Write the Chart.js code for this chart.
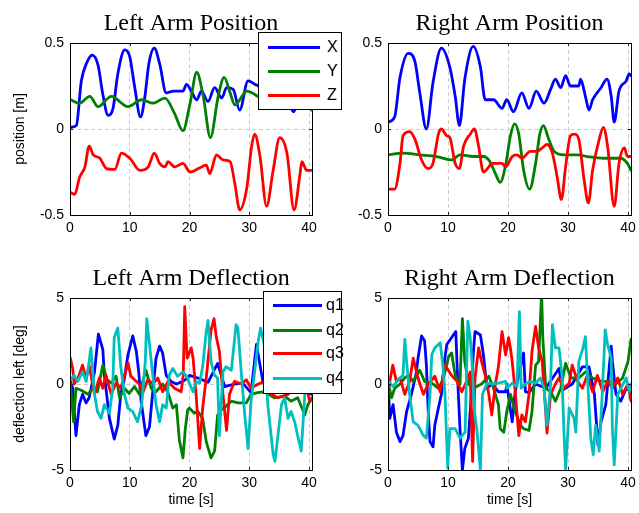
<!DOCTYPE html>
<html>
<head>
<meta charset="utf-8">
<script src="https://cdn.jsdelivr.net/npm/chart.js@4.4.0/dist/chart.umd.min.js"></script>
<style>
html,body{margin:0;padding:0;background:#fff;overflow:hidden;width:639px;height:513px;}
#wrap{position:relative;width:639px;height:513px;overflow:hidden;background:#fff;}
#wrap canvas{position:absolute;}
.legend{position:absolute;background:#fff;border:1px solid #000;box-sizing:border-box;font-family:"Liberation Sans",Arial,sans-serif;font-size:16px;color:#000;}
.legend .ln{position:absolute;height:3px;}
.legend .tx{position:absolute;line-height:20px;height:20px;}
</style>
</head>
<body>
<div id="wrap">
  <canvas id="cTL" width="382" height="258" style="left:0px;top:0px;width:382px;height:258px;"></canvas>
  <canvas id="cTR" width="383" height="258" style="left:318px;top:0px;width:383px;height:258px;"></canvas>
  <canvas id="cBL" width="382" height="258" style="left:0px;top:255px;width:382px;height:258px;"></canvas>
  <canvas id="cBR" width="383" height="258" style="left:318px;top:255px;width:383px;height:258px;"></canvas>
  <div class="legend" id="legTL" style="left:258px;top:32px;width:84px;height:78px;"></div>
  <div class="legend" id="legBL" style="left:263px;top:291px;width:79px;height:103px;"></div>
</div>
<script>
// ---------- tick labels / categories ----------
const xTickValues = [0, 10, 20, 30, 40];
const posTickValues = [-0.5, 0, 0.5];
const defTickValues = [-5, 0, 5];
const posLabels = ['X', 'Y', 'Z'];
const defLabels = ['q1', 'q2', 'q3', 'q4'];
const panelTitles = ['Left Arm Position', 'Right Arm Position', 'Left Arm Deflection', 'Right Arm Deflection'];
const posAxisTitle = 'position [m]';
const defAxisTitle = 'deflection left [deg]';
const timeAxisTitle = 'time [s]';

// ---------- Left arm position ----------
const tlXt = [0.1,1.06,1.9,2.74,3.74,4.7,5.5,6.37,7.2,8.0,9.16,10.0,10.8,11.8,12.5,13.2,14.1,15.0,16.1,17.3,18.9,19.5,20.3,21.2,22.0,23.1,24.2,25.4,26.2,27.3,28.4,29.8,30.9,31.8,32.9,34.0,35.1,36.3,37.4,38.5,39.6,40.4];
const tlXv = [0.01,0.02,0.28,0.38,0.43,0.37,0.2,0.08,0.12,0.32,0.46,0.42,0.25,0.07,0.18,0.38,0.47,0.38,0.21,0.22,0.22,0.26,0.22,0.17,0.22,0.16,0.24,0.18,0.24,0.23,0.11,0.28,0.26,0.24,0.12,0.22,0.25,0.2,0.1,0.2,0.22,0.2];
const tlYt = [0.1,1.6,3.3,4.7,6.9,9.7,12.0,13.9,15.9,17.5,18.9,20.1,21.2,22.3,23.5,24.8,25.8,26.8,27.6,29.6,31.4,32.9,35.1,37.4,39.6,40.4];
const tlYv = [0.17,0.15,0.19,0.13,0.19,0.13,0.17,0.15,0.18,0.09,-0.01,0.15,0.33,0.19,-0.05,0.19,0.3,0.21,0.14,0.22,0.19,0.15,0.2,0.17,0.14,0.11];
const tlZt = [0.1,0.8,1.6,2.5,3.2,3.9,5.0,6.1,7.5,8.6,10.0,11.7,13.1,14.1,15.0,15.9,16.4,17.5,18.9,20.1,21.5,22.8,23.4,24.5,25.6,26.8,27.6,28.4,29.6,30.4,30.9,31.8,32.9,34.0,35.1,36.3,37.5,38.5,38.8,39.6,40.4];
const tlZv = [-0.37,-0.38,-0.28,-0.22,-0.1,-0.15,-0.17,-0.23,-0.235,-0.14,-0.17,-0.24,-0.22,-0.14,-0.2,-0.22,-0.19,-0.22,-0.2,-0.25,-0.23,-0.21,-0.26,-0.15,-0.18,-0.19,-0.32,-0.47,-0.34,-0.1,-0.03,-0.16,-0.45,-0.24,-0.05,-0.14,-0.47,-0.26,-0.19,-0.24,-0.24];

// ---------- Right arm position ----------
const trXt = [0,1.1,2.0,3.35,4.5,5.3,6.4,7.5,8.9,10.3,11.2,11.9,12.8,14.2,15.4,16.2,17.6,19.0,19.8,20.9,22.3,23.5,24.7,26.0,27.1,27.9,28.8,29.6,30.4,31.8,32.1,32.9,33.5,34.1,35.5,36.5,37.2,37.7,38.5,39.7,40.2,40.5];
const trXv = [0.04,0.07,0.3,0.44,0.39,0.21,0.0,0.27,0.47,0.36,0.19,0.02,0.29,0.48,0.36,0.17,0.17,0.12,0.17,0.1,0.21,0.12,0.22,0.15,0.23,0.29,0.24,0.31,0.25,0.25,0.29,0.19,0.11,0.17,0.24,0.29,0.19,0.04,0.22,0.28,0.32,0.31];
const trYt = [0,2.5,5.3,8.1,10.6,12.0,14.2,15.9,17.0,17.9,18.7,19.6,20.4,21.1,21.8,22.6,23.6,24.6,25.3,25.9,26.8,27.7,29.3,31.6,33.2,36.0,38.8,39.9,40.5];
const trYv = [-0.15,-0.14,-0.15,-0.16,-0.18,-0.15,-0.16,-0.16,-0.19,-0.26,-0.31,-0.21,-0.04,0.03,-0.03,-0.24,-0.35,-0.2,-0.03,0.02,-0.06,-0.13,-0.15,-0.15,-0.16,-0.17,-0.17,-0.2,-0.24];
const trZt = [0,1.1,2.0,2.5,3.6,4.5,5.6,6.7,7.5,8.4,8.9,9.8,10.3,11.2,11.9,12.6,13.7,14.4,15.1,15.9,16.8,17.3,19.0,19.6,20.7,21.5,22.3,23.7,24.9,25.7,26.5,27.4,28.2,28.9,29.6,30.4,31.1,31.8,32.7,33.4,34.1,35.2,35.9,36.6,37.7,38.5,39.4,39.9,40.5];
const trZv = [-0.35,-0.35,-0.2,-0.04,-0.015,-0.06,-0.18,-0.23,-0.2,-0.03,0.0,-0.04,-0.05,-0.2,-0.23,-0.1,-0.03,0.0,-0.1,-0.25,-0.22,-0.2,-0.2,-0.22,-0.16,-0.15,-0.17,-0.13,-0.13,-0.11,-0.09,-0.14,-0.28,-0.41,-0.22,-0.04,-0.03,-0.06,-0.3,-0.43,-0.24,-0.06,0.01,-0.1,-0.45,-0.2,-0.11,-0.16,-0.16];

// ---------- Left arm deflection ----------
const blQ1t = [0.06,0.45,1.0,1.56,2.1,2.7,3.2,4.1,4.75,5.5,5.75,6.2,6.6,7.4,8.0,8.5,9.1,9.7,10.5,11.1,11.5,11.9,12.7,13.3,13.9,14.4,15.0,15.5,16.1,16.9,17.8,18.9,19.7,20.0,21.4,23.1,24.7,25.9,27.5,28.9,30.3,31.2,31.7,32.3,34.2,36.5,38.7,40.4];
const blQ1v = [0.15,-0.25,-3.0,-1.2,-0.6,-1.1,-0.8,0.7,2.9,2.0,0.5,-0.8,-2.0,-3.2,-2.4,-0.6,0.3,1.7,2.8,1.9,0.7,-1.0,-3.0,-2.5,-0.25,1.5,2.2,1.8,0.5,0.15,0,0.15,0.35,0.5,0.35,0.1,1.2,-0.15,0,0.05,-0.5,2.3,1.3,0.1,-0.3,-0.4,-0.3,-0.6];
const blQ2t = [0.06,0.6,1.0,1.8,3.0,3.8,4.6,5.5,6.2,6.9,7.7,8.3,9.1,9.9,10.8,11.6,12.7,13.6,14.4,15.5,16.4,17.2,17.8,18.3,18.9,19.3,19.7,20.0,20.8,21.4,22.2,22.8,23.6,24.2,24.7,25.3,26.1,27.0,28.1,29.5,30.3,31.4,32.6,34.2,35.9,37.0,38.1,39.3,39.8,40.4];
const blQ2v = [0,-2.2,-0.25,-0.35,-0.6,-0.25,-0.45,1.1,0.25,0.05,0.45,-0.8,-0.25,-0.55,-0.15,-0.6,0.8,-0.25,-0.45,0,-0.5,-1.4,-1.2,-3.25,-4.3,-2.6,-1.5,-1.4,-1.7,-1.6,-2.0,-3.35,-4.3,-3.9,-1.8,-1.5,-1.3,-1.0,-1.1,-1.1,-0.6,-0.5,-0.45,-0.8,-0.7,-1.0,-0.8,-1.8,-1.2,-0.9];
const blQ3t = [0.06,0.45,0.7,1.3,2.1,2.7,3.2,4.1,4.9,5.5,6.0,6.9,7.7,8.5,9.7,10.2,11.1,11.6,12.2,13.0,13.9,14.7,15.5,16.4,17.5,18.6,18.95,19.2,19.6,20.3,20.6,21.1,21.7,22.2,22.8,23.6,24.1,24.5,25.0,25.6,26.2,26.7,27.5,28.7,29.5,30.3,31.5,32.6,33.7,34.8,36.5,37.6,38.7,39.5,40.1,40.5];
const blQ3v = [1.5,0.9,0,0.3,1.1,0.3,1.1,-0.6,0.35,-0.25,0.5,-0.6,0.05,-0.25,1.2,0.45,0.15,0,-0.5,0.25,0,0.35,-0.45,0.15,-0.25,-0.45,0.5,4.5,1.5,2.1,1.5,-0.6,-3.75,-1.4,0.35,3.1,3.8,2.7,1.9,-0.6,-2.7,-0.6,0.15,0,0.25,-0.25,0,0.15,-0.6,-0.8,-0.6,-0.25,-0.35,0,-1.0,-0.8];
const blQ4t = [0.06,0.7,1.3,2.1,2.7,3.2,3.5,4.1,4.6,5.2,5.75,6.6,7.15,7.4,8.0,8.5,9.1,9.7,10.5,11.3,12.0,12.6,12.85,13.3,13.9,14.4,15.0,15.5,16.1,16.6,17.2,18.0,18.9,19.7,20.0,20.6,21.1,21.7,22.2,22.8,23.1,23.6,24.2,24.7,25.0,25.6,26.1,27.0,27.8,28.1,28.7,29.2,29.8,30.3,30.9,31.5,31.9,32.5,33.1,34.0,34.3,34.8,35.4,35.9,36.5,37.0,37.6,38.1,38.7,39.3,39.8,40.5];
const blQ4v = [0.25,0.5,0.15,0.7,0.15,1.3,2.1,-0.6,-1.6,-2.0,-1.2,-1.7,-0.25,2.7,3.25,1.0,-0.6,-1.4,-1.6,-2.2,-1.2,1.3,3.8,2.3,0.35,-1.2,-2.2,-1.2,-1.4,0.5,0.9,0.45,0.7,0.35,0,-0.45,0.15,0.05,1.0,3.05,3.7,1.3,0.5,0.35,-3.0,0.7,1.0,0.8,3.45,3.25,0.5,-1.6,-3.75,-1.0,0.7,2.5,3.25,2.3,-1.2,-4.1,-4.5,-3.0,-1.2,-0.8,-2.0,-1.6,-2.2,-3.0,-3.9,-0.6,-0.25,-0.45];

// ---------- Right arm deflection ----------
const brQ1t = [0.1,0.3,0.85,1.4,2.0,2.5,3.1,3.9,4.75,5.0,5.6,6.1,6.4,6.7,7.0,7.5,7.8,8.4,8.9,9.4,9.8,10.6,11.3,11.6,12.0,12.4,12.8,13.4,13.9,14.2,14.5,15.4,15.9,16.5,17.3,18.4,19.6,19.8,20.7,21.2,22.6,22.9,23.5,24.6,26.3,28.5,29.1,30.7,32.4,33.5,34.4,35.0,35.5,36.3,37.2,37.4,38.0,38.8,39.7,40.5];
const brQ1v = [-0.45,-2.0,-1.2,-2.8,-3.35,-3.0,-1.6,-0.6,0.7,1.5,2.8,2.5,1.1,-1.6,-3.35,-3.65,-2.4,-1.4,-0.6,1.3,2.3,2.7,3.05,0.35,-2.6,-5.0,-3.75,-3.15,-0.6,1.7,3.05,2.85,1.7,-0.25,0,-0.45,-0.45,0,-2.2,-0.45,1.8,-0.45,-0.5,0,-0.25,0.9,-0.35,0,1.0,1.0,-0.6,-3.55,-2.2,-1.2,2.2,1.3,-0.6,-1.0,-0.25,-0.45];
const brQ2t = [0.1,0.6,1.1,2.0,2.8,3.4,4.2,5.3,6.1,7.3,8.4,9.2,10.1,10.6,11.2,12.0,12.4,12.8,13.4,14.2,15.6,16.8,17.6,18.4,18.7,19.3,19.8,20.4,21.2,22.1,22.6,23.5,24.0,24.6,25.1,25.6,25.8,26.3,27.1,27.9,28.8,29.6,30.5,31.8,32.9,34.1,35.5,36.9,38.0,39.1,40.0,40.5];
const brQ2v = [0,-0.8,-0.25,0,0.35,0.5,0.15,0.8,0.15,0.05,-0.25,0.25,1.6,1.8,0.5,0,3.8,1.3,0,-0.25,0,0.45,-0.25,-1.2,-2.6,-2.8,-1.6,-0.6,-1.6,-2.4,-2.6,-2.7,-1.6,1.1,1.3,5.3,2.7,-0.25,-0.45,-1.0,-0.25,1.2,0.35,0.35,0.7,0.35,0.15,0.15,0,0.35,1.3,2.6];
const brQ3t = [0.1,0.8,1.4,2.0,2.8,3.6,4.2,5.0,5.9,6.7,7.8,8.7,9.5,10.6,11.5,12.3,13.1,13.7,14.1,14.5,15.1,15.6,16.2,16.8,17.3,17.9,18.4,19.0,19.6,20.1,20.4,20.7,21.2,21.8,22.3,22.9,23.5,24.0,24.6,25.1,25.7,26.2,26.5,27.1,27.9,28.5,29.3,30.2,30.7,31.6,32.4,33.2,34.1,34.9,35.8,36.6,37.4,38.3,39.1,40.0,40.5];
const brQ3v = [-0.25,1.1,0.15,0.35,-0.6,0.15,1.5,0.35,-0.6,0,0.45,-0.45,1.1,0.5,0.15,-0.45,0.15,0.7,-4.5,0.35,2.1,1.3,0.5,-0.6,-1.8,0,1.0,3.05,1.7,2.7,2.1,1.3,-0.45,-3.0,-1.8,-2.2,-0.6,1.9,3.35,2.1,1.3,-1.2,-2.85,-0.6,0,0.35,-0.25,0.05,1.1,0.15,-0.25,0.5,-0.45,0.5,-0.45,0.15,-0.25,0.35,-0.6,0,-1.0];
const brQ4t = [0.1,0.85,1.7,2.5,2.8,3.1,3.6,4.2,5.0,5.9,6.4,7.0,7.3,7.8,8.7,9.2,9.5,9.95,10.3,11.2,12.0,12.85,13.3,13.7,14.0,14.4,14.8,15.4,15.75,16.5,17.3,18.4,19.6,19.8,20.7,21.5,21.9,22.2,22.9,23.7,24.6,25.4,26.0,26.5,27.1,27.4,27.9,28.5,29.0,29.3,29.6,30.2,31.0,31.3,31.8,32.5,32.9,33.2,33.8,34.2,34.6,35.2,35.7,36.2,36.6,37.2,37.4,37.7,38.3,38.8,39.7,40.2,40.5];
const brQ4v = [0.15,-0.15,0.25,0.5,2.6,1.3,-0.6,-2.2,-2.4,-3.0,-3.15,-0.6,1.7,2.1,2.4,0.9,-0.6,-4.9,-2.6,-2.6,-3.15,-2.8,3.65,2.7,1.3,-1.6,-2.6,-5.0,-0.6,0.05,0,0.05,0.15,-0.25,0.05,-0.15,4.2,-0.25,0,0.15,0.05,0.35,-0.25,-2.4,0,3.45,2.1,2.1,0.5,-2.6,-5.0,-1.4,-2.0,-2.8,1.3,2.1,2.75,0.7,-3.15,-4.1,-2.4,-3.9,-0.6,3.15,2.3,1.5,-2.6,-4.7,-0.6,-0.25,0.35,-0.45,0];

const seriesColors = ['#0000ff', '#008000', '#ff0000', '#00bfbf'];

// ---------- helpers ----------
function pts(ts, vs) { return ts.map((t, i) => ({ x: t, y: vs[i] })); }
const SANS = '"Liberation Sans", Arial, Helvetica, sans-serif';
const SERIF = '"Liberation Serif", "Times New Roman", serif';

const boxPlugin = {
  id: 'matlabBox',
  afterDatasetsDraw(chart) {
    const ctx = chart.ctx, a = chart.chartArea, xs = chart.scales.x, ys = chart.scales.y;
    ctx.save();
    ctx.strokeStyle = '#262626';
    ctx.lineWidth = 1;
    ctx.beginPath();
    xs.ticks.forEach(t => {
      const px = Math.round(xs.getPixelForValue(t.value)) + 0.5;
      ctx.moveTo(px, a.bottom); ctx.lineTo(px, a.bottom - 3);
      ctx.moveTo(px, a.top); ctx.lineTo(px, a.top + 3);
    });
    ys.ticks.forEach(t => {
      const py = Math.round(ys.getPixelForValue(t.value)) + 0.5;
      ctx.moveTo(a.left, py); ctx.lineTo(a.left + 3, py);
      ctx.moveTo(a.right, py); ctx.lineTo(a.right - 3, py);
    });
    ctx.stroke();
    ctx.strokeStyle = '#000';
    ctx.strokeRect(Math.round(a.left) + 0.5, Math.round(a.top) + 0.5, Math.round(a.right - a.left), Math.round(a.bottom - a.top));
    ctx.restore();
  }
};

function makePanel(id, title, labels, seriesList, yTicks, yTitle, xTitle, smooth) {
  const n = seriesList.length;
  const datasets = seriesList.map((s, i) => ({
    label: labels[i],
    data: pts(s[0], s[1]),
    borderColor: seriesColors[i],
    backgroundColor: seriesColors[i],
    borderWidth: 2.8,
    pointRadius: 0,
    fill: false,
    tension: 0,
    cubicInterpolationMode: smooth ? 'monotone' : 'default',
    borderJoinStyle: 'round',
    borderCapStyle: 'round',
    order: n - i
  }));
  const yMin = yTicks[0], yMax = yTicks[yTicks.length - 1];
  return new Chart(document.getElementById(id), {
    type: 'line',
    data: { datasets },
    plugins: [boxPlugin],
    options: {
      responsive: false,
      animation: false,
      devicePixelRatio: 1,
      layout: { padding: 0 },
      plugins: {
        legend: { display: false },
        tooltip: { enabled: false },
        title: {
          display: true, text: title, color: '#000',
          font: { family: SERIF, size: 24, weight: 'normal', lineHeight: 1.2 },
          padding: { top: 9, bottom: 5.2 }
        }
      },
      scales: {
        x: {
          type: 'linear', position: 'bottom', min: 0, max: 40.5,
          afterBuildTicks: s => { s.ticks = xTickValues.map(v => ({ value: v })); },
          afterFit: s => { s.height = 43; },
          ticks: { color: '#000', font: { family: SANS, size: 14 }, padding: 5, maxRotation: 0, autoSkip: false, callback: v => String(v) },
          grid: { color: '#cccccc', lineWidth: 1, drawTicks: false },
          border: { display: false, dash: [4, 3] },
          title: { display: !!xTitle, text: xTitle || '', color: '#000', font: { family: SANS, size: 14, lineHeight: 1.2 }, padding: { top: 0, bottom: 4.6 } }
        },
        y: {
          type: 'linear', position: 'left', min: yMin, max: yMax,
          afterBuildTicks: s => { s.ticks = yTicks.map(v => ({ value: v })); },
          afterFit: s => { s.width = 70; },
          ticks: { color: '#000', font: { family: SANS, size: 14 }, padding: 6, autoSkip: false, callback: v => String(v) },
          grid: { color: '#cccccc', lineWidth: 1, drawTicks: false },
          border: { display: false, dash: [4, 3] },
          title: { display: !!yTitle, text: yTitle || '', color: '#000', font: { family: SANS, size: 14, lineHeight: 1.2 }, padding: { top: 11.6, bottom: 0 } }
        },
        yR: {
          type: 'linear', position: 'right', display: true,
          afterFit: s => { s.width = 70; },
          ticks: { display: false },
          grid: { display: false, drawTicks: false },
          border: { display: false }
        }
      }
    }
  });
}

function makeLegend(divId, chart, rowYs, lineX0, lineX1, textX) {
  const div = document.getElementById(divId);
  chart.data.datasets.forEach((ds, i) => {
    const ln = document.createElement('div');
    ln.className = 'ln';
    ln.style.left = lineX0 + 'px';
    ln.style.width = (lineX1 - lineX0) + 'px';
    ln.style.top = (rowYs[i] - 1.5) + 'px';
    ln.style.background = ds.borderColor;
    div.appendChild(ln);
    const tx = document.createElement('div');
    tx.className = 'tx';
    tx.style.left = textX + 'px';
    tx.style.top = (rowYs[i] - 10) + 'px';
    tx.textContent = ds.label;
    div.appendChild(tx);
  });
}

const chTL = makePanel('cTL', panelTitles[0], posLabels, [[tlXt, tlXv], [tlYt, tlYv], [tlZt, tlZv]], posTickValues, posAxisTitle, null, true);
const chTR = makePanel('cTR', panelTitles[1], posLabels, [[trXt, trXv], [trYt, trYv], [trZt, trZv]], posTickValues, null, null, true);
const chBL = makePanel('cBL', panelTitles[2], defLabels, [[blQ1t, blQ1v], [blQ2t, blQ2v], [blQ3t, blQ3v], [blQ4t, blQ4v]], defTickValues, defAxisTitle, timeAxisTitle, false);
const chBR = makePanel('cBR', panelTitles[3], defLabels, [[brQ1t, brQ1v], [brQ2t, brQ2v], [brQ3t, brQ3v], [brQ4t, brQ4v]], defTickValues, null, timeAxisTitle, false);

makeLegend('legTL', chTL, [14, 38, 62], 9, 61, 68);
makeLegend('legBL', chBL, [13, 38, 61, 86], 9, 58, 62);
</script>
</body>
</html>
